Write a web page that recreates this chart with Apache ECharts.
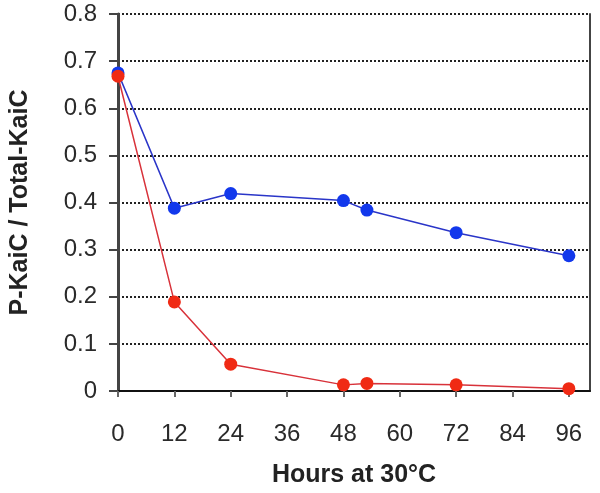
<!DOCTYPE html>
<html>
<head>
<meta charset="utf-8">
<script src="https://cdn.jsdelivr.net/npm/echarts@6/dist/echarts.min.js"></script>
<style>
  html, body { margin: 0; padding: 0; background: #fff; }
  #chart { width: 600px; height: 493px; }
</style>
</head>
<body>
<div id="chart"></div>
<script>
const hourTicks = [0, 12, 24, 36, 48, 60, 72, 84, 96];
const hours = [0, 12, 24, 48, 53, 72, 96];
const blueValues = [0.675, 0.388, 0.419, 0.404, 0.384, 0.336, 0.287];
const redValues = [0.668, 0.189, 0.057, 0.013, 0.016, 0.013, 0.005];

const pairs = (xs, ys) => xs.map((x, i) => [x, ys[i]]);
const labelFont = { fontFamily: "Liberation Sans, Arial, sans-serif", fontSize: 24, color: "#2a2a2a" };
const titleFont = { fontFamily: "Liberation Sans, Arial, sans-serif", fontSize: 25, fontWeight: "bold", color: "#222" };

const chart = echarts.init(document.getElementById("chart"));

chart.setOption({
  animation: false,
  grid: { left: 117, right: 10, top: 14, bottom: 102 },
  xAxis: {
    type: "value",
    min: 0,
    max: 100.5,
    name: "Hours at 30°C",
    nameLocation: "middle",
    nameGap: 72,
    nameTextStyle: titleFont,
    axisLine: { lineStyle: { color: "#111", width: 2 } },
    axisTick: { customValues: hourTicks, length: 6, lineStyle: { color: "#666", width: 2 } },
    axisLabel: { customValues: hourTicks, margin: 31, ...labelFont },
    splitLine: { show: false }
  },
  yAxis: [
    {
      type: "value",
      min: 0,
      max: 0.8,
      interval: 0.1,
      name: "P-KaiC / Total-KaiC",
      nameLocation: "middle",
      nameGap: 85,
      nameTextStyle: titleFont,
      axisLine: { show: true, lineStyle: { color: "#444", width: 3 } },
      axisTick: { show: true, length: 9, lineStyle: { color: "#444", width: 2 } },
      axisLabel: { margin: 21, formatter: v => (v === 0 ? "0" : v.toFixed(1)), ...labelFont },
      splitLine: { lineStyle: { color: "#222", width: 2, type: [2, 2] } }
    },
    {
      type: "value",
      min: 0,
      max: 0.8,
      position: "right",
      axisLine: { show: true, lineStyle: { color: "#444", width: 2 } },
      axisTick: { show: false },
      axisLabel: { show: false },
      splitLine: { show: false }
    }
  ],
  series: [
    {
      type: "line",
      data: pairs(hours, blueValues),
      symbol: "circle",
      symbolSize: 13,
      lineStyle: { color: "#2a35c8", width: 1.5 },
      itemStyle: { color: "#1238ec" }
    },
    {
      type: "line",
      data: pairs(hours, redValues),
      symbol: "circle",
      symbolSize: 13,
      lineStyle: { color: "#d8323a", width: 1.5 },
      itemStyle: { color: "#f02a14" }
    }
  ]
});
</script>
</body>
</html>
